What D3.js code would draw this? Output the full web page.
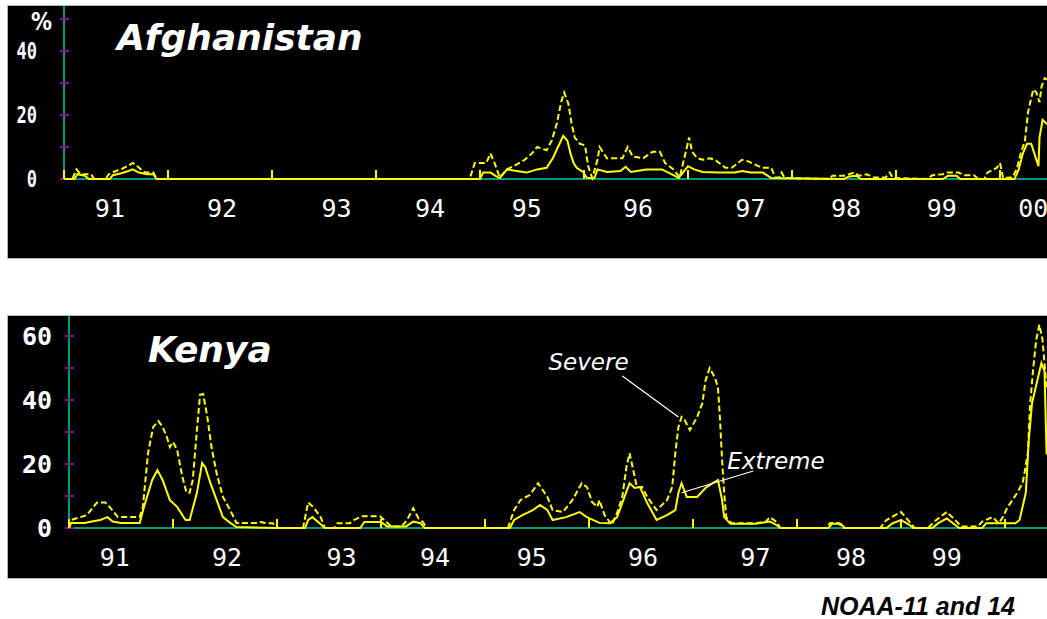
<!DOCTYPE html>
<html>
<head>
<meta charset="utf-8">
<script src="https://cdn.jsdelivr.net/npm/d3@7.9.0/dist/d3.min.js"></script>
<style>
  html, body { margin: 0; padding: 0; background: #fff; }
  svg { display: block; }
</style>
</head>
<body>
<svg id="chart" width="1047" height="619"></svg>
<script>
// year boundaries (small yellow ticks) and where the year labels sit
const yearTicks = [1991, 1992, 1993, 1994, 1995, 1996, 1997, 1998, 1999, 2000];
const labelYears = [1991.44, 1992.52, 1993.62, 1994.52, 1995.45, 1996.52, 1997.6, 1998.52, 1999.44, 2000.32];
const labelText = ['91', '92', '93', '94', '95', '96', '97', '98', '99', '00'];

// % of area, [decimal year, value]
const afgSevere = [
  [1991.00,0],[1991.08,0],[1991.10,1.5],[1991.12,3],[1991.16,1.5],[1991.26,1.5],[1991.29,0],
  [1991.40,0],[1991.43,1.5],[1991.50,2.5],[1991.56,3.2],[1991.62,4.2],[1991.66,5],[1991.70,4.2],[1991.74,3],[1991.78,2],[1991.86,2],[1991.89,0],
  [1994.90,0],[1994.93,3],[1994.95,5],[1995.06,5],[1995.10,8],[1995.14,5],[1995.19,0.5],[1995.26,3],[1995.35,4.5],[1995.43,6],
  [1995.50,8],[1995.55,10],[1995.64,9],[1995.69,12],[1995.74,17.5],[1995.78,24],[1995.81,27],[1995.85,23.5],[1995.88,17.5],
  [1995.91,13],[1995.96,11],[1996.01,10.5],[1996.04,4],[1996.08,0.3],[1996.13,6],[1996.15,10],[1996.22,6.5],[1996.37,6.5],
  [1996.42,10],[1996.47,7],[1996.57,6.5],[1996.66,8.5],[1996.73,8.5],[1996.78,5],[1996.86,3],[1996.92,0.5],[1996.99,10],
  [1997.01,13],[1997.04,8.5],[1997.09,6.5],[1997.14,6],[1997.21,6.5],[1997.26,6],[1997.36,3.5],[1997.42,3.5],[1997.52,6],
  [1997.58,5.5],[1997.71,3.5],[1997.80,3.5],[1997.84,0.5],[1997.88,0.5],[1997.90,2],[1997.93,0.3],[1998.35,0],[1998.39,1],
  [1998.50,1],[1998.60,2],[1998.65,1],[1998.72,1.5],[1998.78,0.5],[1998.90,0.5],[1998.94,2],[1998.97,0.3],[1999.30,0],
  [1999.35,1.2],[1999.45,1.5],[1999.49,2],[1999.60,2],[1999.66,1.2],[1999.75,1.2],[1999.79,0],[1999.85,0],[1999.88,2],
  [1999.97,3.5],[2000.00,5],[2000.03,0.3],[2000.12,0.5],[2000.16,3],[2000.20,8],[2000.24,12],[2000.27,21],[2000.32,28],
  [2000.35,27],[2000.38,24],[2000.40,29],[2000.43,31.5],[2000.46,31]
];
const afgExtreme = [
  [1991.00,0],[1991.10,0],[1991.13,1.5],[1991.20,1],[1991.24,0],
  [1991.44,0],[1991.47,1.2],[1991.55,1.8],[1991.62,2.5],[1991.66,3],[1991.72,2],[1991.80,1.5],[1991.86,1.5],[1991.89,0],
  [1995.00,0],[1995.03,2],[1995.10,2],[1995.15,1],[1995.19,0.3],[1995.26,3],[1995.35,2.5],[1995.45,2],[1995.55,3],
  [1995.64,3.5],[1995.70,6.5],[1995.75,10],[1995.80,13.5],[1995.84,12],[1995.87,8],[1995.90,5],[1995.93,3.5],[1995.99,2.2],
  [1996.03,0.3],[1996.10,0.3],[1996.13,3],[1996.22,2.2],[1996.35,2.5],[1996.40,3.8],[1996.45,2.2],[1996.60,3],[1996.75,3],
  [1996.86,1.2],[1996.91,0.3],[1997.00,4],[1997.06,3],[1997.14,2.2],[1997.30,2],[1997.45,2],[1997.52,2.5],[1997.60,2],
  [1997.72,2],[1997.80,0.3],[1998.50,0],[1998.55,0.8],[1998.62,1],[1998.66,0],[1999.45,0],[1999.50,1],[1999.58,1],
  [1999.62,0],[2000.14,0],[2000.18,3],[2000.22,8],[2000.26,11],[2000.30,11],[2000.34,7],[2000.37,4],[2000.38,13],
  [2000.41,18.5],[2000.44,17.5],[2000.46,17]
];
const kenSevere = [
  [1991.00,0],[1991.02,2.5],[1991.17,4],[1991.27,8],[1991.35,8],[1991.40,6.2],[1991.47,3.4],[1991.68,3.4],[1991.71,6.5],
  [1991.76,23.4],[1991.81,31.6],[1991.86,33.4],[1991.90,31.6],[1991.94,28.5],[1991.97,25.3],[1992.00,26.9],[1992.04,24.4],
  [1992.09,16],[1992.13,11],[1992.16,11],[1992.19,15],[1992.23,30.6],[1992.26,41.6],[1992.29,41.9],[1992.33,34.7],
  [1992.37,25.3],[1992.42,17],[1992.48,9.7],[1992.55,5.6],[1992.61,1.6],[1992.80,1.6],[1992.84,1.9],[1992.90,1.5],
  [1992.96,1.5],[1993.00,0],[1993.25,0],[1993.30,8],[1993.35,6.5],[1993.42,3.4],[1993.46,0],[1993.55,0],[1993.58,1.5],
  [1993.70,1.5],[1993.74,2.5],[1993.82,3.7],[1993.99,3.7],[1994.05,1.9],[1994.10,0.5],[1994.20,0.5],[1994.25,2.5],
  [1994.31,6.2],[1994.36,3],[1994.40,2],[1994.44,0],[1995.22,0],[1995.28,5.6],[1995.34,8.7],[1995.43,10.3],[1995.51,14],
  [1995.60,9.7],[1995.65,5.6],[1995.75,5],[1995.84,8.7],[1995.93,14],[1995.98,12.8],[1996.03,8.1],[1996.08,6.6],
  [1996.10,8.7],[1996.15,4],[1996.22,1],[1996.27,4.7],[1996.32,9.7],[1996.36,19],[1996.39,23.4],[1996.42,19],
  [1996.46,12.8],[1996.51,12.8],[1996.56,9.7],[1996.65,5.6],[1996.75,8.7],[1996.80,12.8],[1996.83,23.4],[1996.86,31.6],
  [1996.89,34.7],[1996.92,33.7],[1996.97,30.6],[1997.04,34.7],[1997.09,39],[1997.12,46],[1997.16,50],[1997.21,47],
  [1997.24,44],[1997.26,33.7],[1997.28,21],[1997.30,10.9],[1997.32,3.4],[1997.37,1.5],[1997.60,1.5],[1997.70,2],
  [1997.74,3.4],[1997.80,2],[1997.84,0],[1998.28,0],[1998.32,1.6],[1998.40,1.6],[1998.44,0],[1998.80,0],[1998.86,2.5],
  [1999.00,5],[1999.08,2],[1999.13,0],[1999.26,0],[1999.32,2],[1999.44,5],[1999.52,2.5],[1999.58,0.5],[1999.74,0.5],
  [1999.78,2],[1999.88,3.4],[1999.94,1.5],[1999.98,3.4],[2000.02,6.2],[2000.11,10.6],[2000.17,14],[2000.22,23.4],
  [2000.24,38],[2000.27,49.4],[2000.30,58.8],[2000.33,63.5],[2000.36,59],[2000.40,44]
];
const kenExtreme = [
  [1991.00,0],[1991.02,1.6],[1991.15,1.6],[1991.22,2],[1991.30,2.5],[1991.37,3.4],[1991.42,2],[1991.50,1.6],[1991.68,1.6],
  [1991.72,6.5],[1991.80,15],[1991.85,18.1],[1991.90,15],[1991.97,8.7],[1992.04,6.6],[1992.12,2.5],[1992.16,2.5],
  [1992.23,11],[1992.28,20.3],[1992.31,19],[1992.36,14],[1992.42,8.7],[1992.48,3.4],[1992.55,1.6],[1992.61,0.3],
  [1993.00,0],[1993.27,0],[1993.30,2.5],[1993.34,3.4],[1993.42,1.2],[1993.46,0],[1993.80,0],[1993.84,1.9],[1994.00,1.9],
  [1994.06,0.5],[1994.24,0.5],[1994.31,2],[1994.38,1.5],[1994.42,0],[1995.24,0],[1995.28,2.5],[1995.36,4],[1995.46,5.6],
  [1995.53,7.2],[1995.60,5.6],[1995.65,2.5],[1995.78,3.4],[1995.91,5],[1995.98,3.4],[1996.10,1.6],[1996.20,1.5],
  [1996.27,3.4],[1996.33,8.7],[1996.39,14],[1996.44,12.5],[1996.49,12.8],[1996.56,7.8],[1996.65,2.5],[1996.75,4],
  [1996.83,5.6],[1996.86,11],[1996.89,14],[1996.94,9.7],[1997.04,9.7],[1997.12,12.5],[1997.19,14],[1997.24,15],
  [1997.28,8.7],[1997.30,3.4],[1997.36,1.3],[1997.60,1.3],[1997.74,2],[1997.80,1],[1997.84,0],[1998.30,0],[1998.34,1.3],
  [1998.42,1.3],[1998.46,0],[1998.86,0],[1998.92,1.5],[1999.00,2.5],[1999.08,1],[1999.12,0],[1999.30,0],[1999.36,1.5],
  [1999.44,3],[1999.50,1.5],[1999.56,0],[1999.78,0],[1999.82,1.5],[1999.95,1.5],[2000.10,1.5],[2000.14,2.5],
  [2000.20,11],[2000.23,28],[2000.26,39],[2000.31,46],[2000.35,51.5],[2000.38,49],[2000.40,23]
];

const YELLOW = '#ffff00', TEAL = '#009980', PURPLE = '#900090';
const svg = d3.select('#chart');

function drawPanel(p) {
    const g = svg.append('g');
    const x = d3.scaleLinear().domain([1991, 2001]).range([p.axisX, p.axisX + 1040]);
    const y = d3.scaleLinear().domain([0, p.yMax]).range([p.zeroY, p.zeroY - p.yMax * 3.2]);

    g.append('rect')
        .attr('x', 7.5).attr('y', p.top + 0.5)
        .attr('width', 1045).attr('height', p.bottom - p.top)
        .attr('fill', '#000').attr('stroke', '#b4b4b4');

    // baseline and y axis
    g.append('line')
        .attr('x1', p.axisX).attr('x2', 1047)
        .attr('y1', y(0)).attr('y2', y(0))
        .attr('stroke', TEAL).attr('stroke-width', 2);
    g.append('line')
        .attr('x1', p.axisX).attr('x2', p.axisX)
        .attr('y1', p.top + 1).attr('y2', y(0))
        .attr('stroke', TEAL).attr('stroke-width', 2);

    // purple minor ticks every 10%
    d3.range(0, p.yMax + 1, 10).forEach(v => {
        g.append('line')
            .attr('x1', p.axisX - 4).attr('x2', p.axisX + 5)
            .attr('y1', y(v)).attr('y2', y(v))
            .attr('stroke', PURPLE).attr('stroke-width', 2);
    });

    // y labels
    p.yLabels.forEach(([v, t]) => {
        g.append('text')
            .attr('transform', `translate(${p.labelX},${y(v)}) scale(1,${p.labelStretch})`)
            .attr('text-anchor', 'end')
            .attr('dy', '0.36em')
            .attr('fill', '#fff')
            .attr('font-family', 'DejaVu Sans Mono')
            .attr('font-weight', 'bold')
            .attr('font-size', p.labelSize)
            .text(t);
    });
    if (p.unit) {
        g.append('text')
            .attr('transform', `translate(52,${y(p.yMax) + 2}) scale(1,1.15)`)
            .attr('text-anchor', 'end')
            .attr('dy', '0.36em')
            .attr('fill', '#fff')
            .attr('font-family', 'DejaVu Sans')
            .attr('font-weight', 'bold')
            .attr('font-size', 21)
            .text(p.unit);
    }

    // small yellow year ticks
    yearTicks.forEach(t => {
        g.append('line')
            .attr('x1', x(t)).attr('x2', x(t))
            .attr('y1', y(0) - 9).attr('y2', y(0))
            .attr('stroke', YELLOW).attr('stroke-width', 2);
    });

    // year labels
    labelYears.forEach((t, i) => {
        if (x(t) > 1036) return;
        g.append('text')
            .attr('x', x(t)).attr('y', p.zeroY + 38)
            .attr('text-anchor', 'middle')
            .attr('fill', '#fff')
            .attr('font-family', 'DejaVu Sans Mono')
            .attr('font-size', 25)
            .text(labelText[i]);
    });

    const line = d3.line().x(d => x(d[0])).y(d => y(d[1]));
    g.append('path').datum(p.extreme)
        .attr('d', line).attr('fill', 'none')
        .attr('stroke', YELLOW).attr('stroke-width', 2);
    g.append('path').datum(p.severe)
        .attr('d', line).attr('fill', 'none')
        .attr('stroke', YELLOW).attr('stroke-width', 2)
        .attr('stroke-dasharray', '6,3');

    g.append('text')
        .attr('x', p.titleX).attr('y', p.titleY)
        .attr('fill', '#fff')
        .attr('font-family', 'DejaVu Sans')
        .attr('font-weight', 'bold')
        .attr('font-style', 'italic')
        .attr('font-size', 36)
        .text(p.title);

    return { x, y, g };
}

drawPanel({
    title: 'Afghanistan', titleX: 117, titleY: 50,
    top: 5, bottom: 258, axisX: 64, zeroY: 179, yMax: 50, unit: '%',
    yLabels: [[40, '40'], [20, '20'], [0, '0']],
    labelX: 37, labelSize: 17, labelStretch: 1.3,
    severe: afgSevere, extreme: afgExtreme
});

const ken = drawPanel({
    title: 'Kenya', titleX: 148, titleY: 362,
    top: 315, bottom: 578, axisX: 69, zeroY: 528, yMax: 60,
    yLabels: [[60, '60'], [40, '40'], [20, '20'], [0, '0']],
    labelX: 52, labelSize: 25, labelStretch: 1,
    severe: kenSevere, extreme: kenExtreme
});

// callouts on the Kenya panel: label, text position, leader line
const callouts = [
    { text: 'Severe', at: [1995.61, 49.4], from: [1996.32, 47.5], to: [1996.86, 34.7] },
    { text: 'Extreme', at: [1997.33, 18.4], from: [1997.58, 17.8], to: [1996.89, 11] }
];
callouts.forEach(c => {
    ken.g.append('line')
        .attr('x1', ken.x(c.from[0])).attr('y1', ken.y(c.from[1]))
        .attr('x2', ken.x(c.to[0])).attr('y2', ken.y(c.to[1]))
        .attr('stroke', '#fff').attr('stroke-width', 1.2);
    ken.g.append('text')
        .attr('x', ken.x(c.at[0])).attr('y', ken.y(c.at[1]))
        .attr('fill', '#fff')
        .attr('font-family', 'DejaVu Sans')
        .attr('font-style', 'italic')
        .attr('font-size', 23)
        .text(c.text);
});

svg.append('text')
    .attr('x', 1015).attr('y', 615)
    .attr('text-anchor', 'end')
    .attr('fill', '#000')
    .attr('font-family', 'Liberation Sans')
    .attr('font-weight', 'bold')
    .attr('font-style', 'italic')
    .attr('font-size', 25)
    .text('NOAA-11 and 14');
</script>
</body>
</html>
